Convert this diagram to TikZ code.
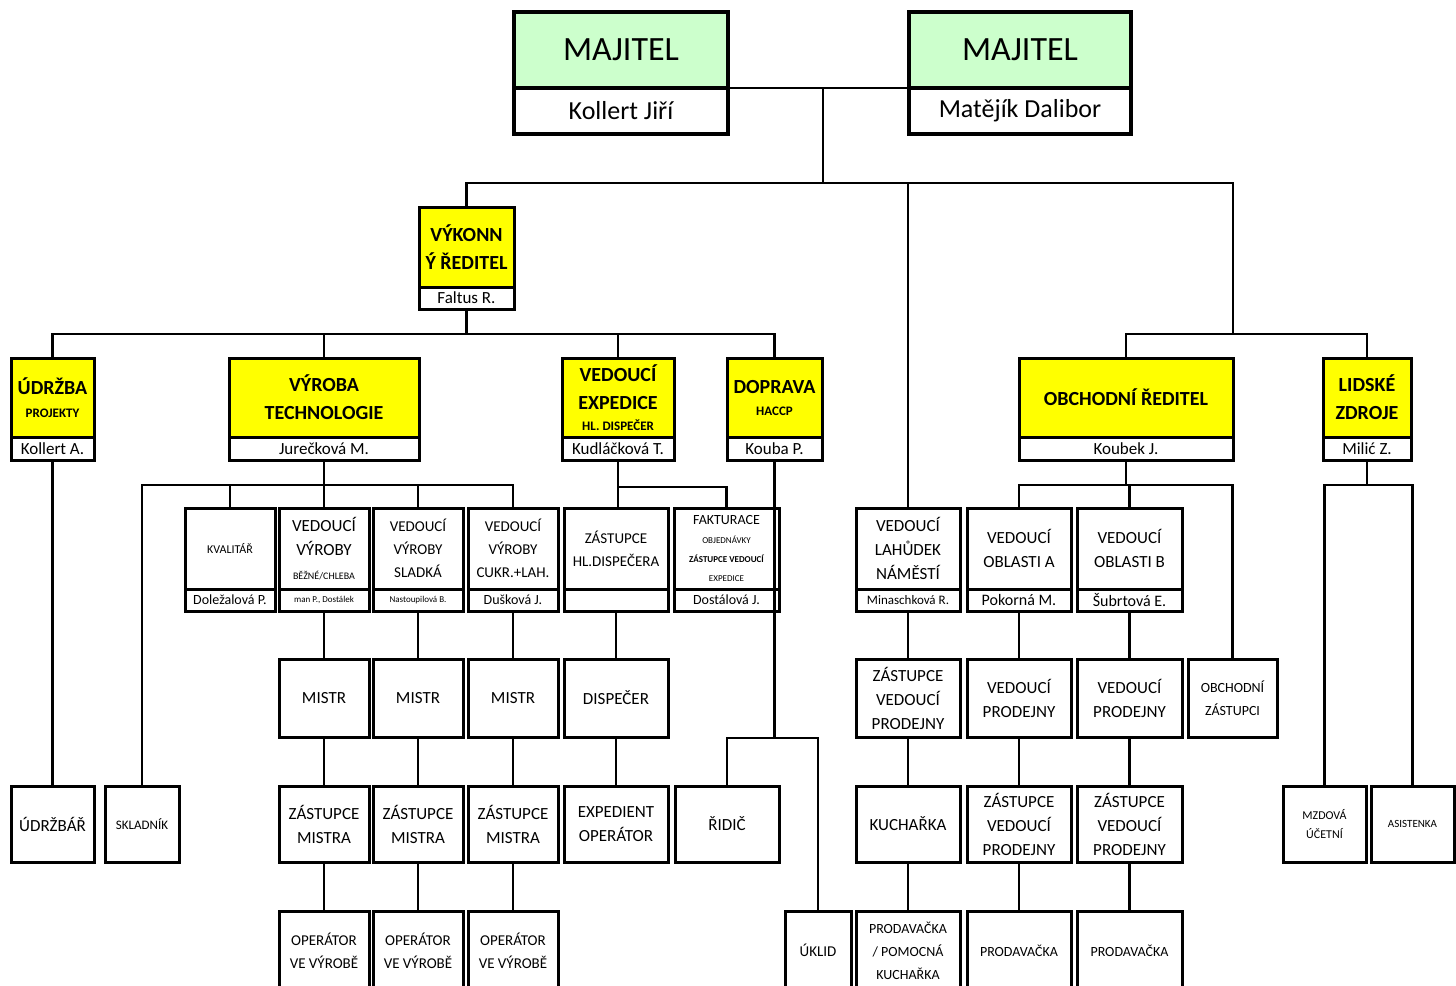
\documentclass[tikz,border=0pt]{standalone}
\usepackage{fontspec}
\setmainfont{Carlito}
\usepackage{tikz}
\usetikzlibrary{positioning}
\definecolor{ownergreen}{RGB}{204,255,204}
\definecolor{headyellow}{RGB}{255,255,0}
\newcommand\fsz[2]{\fontsize{#1}{#2}\selectfont}

\begin{document}
\begin{tikzpicture}[x=0.5pt, y=-0.5pt,
  box/.style={draw, line width=1.5pt, inner sep=0pt, outer sep=0pt, align=center},
  owner/.style={box, line width=2pt, fill=ownergreen, font=\fsz{17}{20}},
  ownername/.style={box, line width=2pt, fill=white, font=\fsz{13}{15}},
  head/.style={box, fill=headyellow, font=\fsz{10}{14}\bfseries},
  headname/.style={box, fill=white, font=\fsz{8.5}{10}},
  unit/.style={box, font=\fsz{8.5}{12}},
  unitname/.style={box, font=\fsz{7}{8}},
  sz/.style 2 args={minimum width=#1pt, minimum height=#2pt},
  link/.style={line width=1.1pt}]
  \useasboundingbox (0,0) rectangle (1456,985);
  \clip (0,0) rectangle (1456,985);

  % Majitele
  \node[owner, sz={107}{38}] (own1) at (621,50) {MAJITEL};
  \node[ownername, sz={107}{23}, below=0pt of own1] (own1n) {Kollert Jiří};
  \node[owner, sz={111}{38}] (own2) at (1020,50) {MAJITEL};
  \node[ownername, sz={111}{23}, below=0pt of own2] (own2n) {Matějík Dalibor};

  % Vykonny reditel
  \node[head, sz={47.5}{40}] (exe) at (466.5,247) {VÝKONN\\Ý ŘEDITEL};
  \node[headname, sz={47.5}{11}, below=0pt of exe] (exen) {Faltus R.};

  % Useky
  \node[head, sz={41.5}{39.5}] (udr) at (52.5,397.5) {ÚDRŽBA\\[-2.5pt]{\fsz{6.5}{8}PROJEKTY}};
  \node[headname, sz={41.5}{11.5}, below=0pt of udr] (udrn) {Kollert A.};
  \node[head, sz={95}{39.5}] (vyr) at (324,397.5) {VÝROBA\\TECHNOLOGIE};
  \node[headname, sz={95}{11.5}, below=0pt of vyr] (vyrn) {Jurečková M.};
  \node[head, sz={56}{39.5}] (exp) at (618,397.5) {VEDOUCÍ\\EXPEDICE\\[-3.5pt]{\fsz{6.5}{8}HL. DISPEČER}};
  \node[headname, sz={56}{11.5}, below=0pt of exp] (expn) {Kudláčková T.};
  \node[head, sz={47.5}{39.5}] (dop) at (774.5,397.5) {DOPRAVA\\[-3pt]{\fsz{6.5}{8}HACCP}};
  \node[headname, sz={47.5}{11.5}, below=0pt of dop] (dopn) {Kouba P.};
  \node[head, sz={107}{39.5}] (obch) at (1126,397.5) {OBCHODNÍ ŘEDITEL};
  \node[headname, sz={107}{11.5}, below=0pt of obch] (obchn) {Koubek J.};
  \node[head, sz={44}{39.5}] (lz) at (1367,397.5) {LIDSKÉ\\ZDROJE};
  \node[headname, sz={44}{11.5}, below=0pt of lz] (lzn) {Milić Z.};

  % Vedouci
  \node[unit, sz={45}{40.5}, font=\fsz{6}{8}] (kval) at (230,548.5) {KVALITÁŘ};
  \node[unitname, sz={45}{11}, below=0pt of kval] (kvaln) {Doležalová P.};
  \node[unit, sz={45}{40.5}] (vvb) at (324,548.5) {VEDOUCÍ\\VÝROBY\\{\fsz{5}{6}BĚŽNÉ/CHLEBA}};
  \node[unitname, sz={45}{11}, below=0pt of vvb, font=\fsz{4.5}{5}] (vvbn) {man P., Dostálek};
  \node[unit, sz={45}{40.5}, font=\fsz{7.5}{11.5}] (vvs) at (418,548.5) {VEDOUCÍ\\VÝROBY\\SLADKÁ};
  \node[unitname, sz={45}{11}, below=0pt of vvs, font=\fsz{4.5}{5}] (vvsn) {Nastoupilová B.};
  \node[unit, sz={45}{40.5}, font=\fsz{7.5}{11.5}] (vvc) at (513,548.5) {VEDOUCÍ\\VÝROBY\\CUKR.+LAH.};
  \node[unitname, sz={45}{11}, below=0pt of vvc] (vvcn) {Dušková J.};
  \node[unit, sz={52}{40.5}, font=\fsz{7.5}{11.5}] (zhd) at (616,548.5) {ZÁSTUPCE\\HL.DISPEČERA};
  \node[unitname, sz={52}{11}, below=0pt of zhd] (zhdn) {};
  \node[unit, sz={52.5}{40.5}, font=\fsz{7}{9.5}] (fakt) at (726.5,548.5) {FAKTURACE\\{\fsz{4.5}{9.5}OBJEDNÁVKY}\\{\fsz{4.5}{9.5}\bfseries ZÁSTUPCE VEDOUCÍ}\\{\fsz{4.5}{9.5}EXPEDICE}};
  \node[unitname, sz={52.5}{11}, below=0pt of fakt] (faktn) {Dostálová J.};
  \node[unit, sz={52}{40.5}] (vlah) at (908,548.5) {VEDOUCÍ\\LAHŮDEK\\NÁMĚSTÍ};
  \node[unitname, sz={52}{11}, below=0pt of vlah, font=\fsz{6.5}{7}] (vlahn) {Minaschková R.};
  \node[unit, sz={52}{40.5}] (voa) at (1019,548.5) {VEDOUCÍ\\OBLASTI A};
  \node[unitname, sz={52}{11}, below=0pt of voa, font=\fsz{8}{9}] (voan) {Pokorná M.};
  \node[unit, sz={52.5}{40.5}] (vob) at (1129.5,548.5) {VEDOUCÍ\\OBLASTI B};
  \node[unitname, sz={52.5}{11}, below=0pt of vob, font=\fsz{8}{9}] (vobn) {Šubrtová E.};

  % Mistri a zastupci
  \node[unit, sz={45}{39}] (mis1) at (324,698) {MISTR};
  \node[unit, sz={45}{39}] (mis2) at (418,698) {MISTR};
  \node[unit, sz={45}{39}] (mis3) at (513,698) {MISTR};
  \node[unit, sz={52}{39}] (disp) at (616,698) {DISPEČER};
  \node[unit, sz={52}{39}] (zvp) at (908,698) {ZÁSTUPCE\\VEDOUCÍ\\PRODEJNY};
  \node[unit, sz={52}{39}] (vpa) at (1019,698) {VEDOUCÍ\\PRODEJNY};
  \node[unit, sz={52.5}{39}] (vpb) at (1129.5,698) {VEDOUCÍ\\PRODEJNY};
  \node[unit, sz={44.5}{39}, font=\fsz{7}{11.5}] (obz) at (1232.5,698) {OBCHODNÍ\\ZÁSTUPCI};

  % Pata
  \node[unit, sz={41.5}{38}] (udb) at (52.5,824) {ÚDRŽBÁŘ};
  \node[unit, sz={37}{38}, font=\fsz{6.5}{8}] (skl) at (142,824) {SKLADNÍK};
  \node[unit, sz={45}{38}] (zm1) at (324,824) {ZÁSTUPCE\\MISTRA};
  \node[unit, sz={45}{38}] (zm2) at (418,824) {ZÁSTUPCE\\MISTRA};
  \node[unit, sz={45}{38}] (zm3) at (513,824) {ZÁSTUPCE\\MISTRA};
  \node[unit, sz={52}{38}] (expo) at (616,824) {EXPEDIENT\\OPERÁTOR};
  \node[unit, sz={52}{38}] (ridic) at (727,824) {ŘIDIČ};
  \node[unit, sz={52}{38}] (kuch) at (908,824) {KUCHAŘKA};
  \node[unit, sz={52}{38}] (zpa) at (1019,824) {ZÁSTUPCE\\VEDOUCÍ\\PRODEJNY};
  \node[unit, sz={52.5}{38}] (zpb) at (1129.5,824) {ZÁSTUPCE\\VEDOUCÍ\\PRODEJNY};
  \node[unit, sz={41.5}{38}, font=\fsz{6}{9.5}] (mzd) at (1324.5,824) {MZDOVÁ\\ÚČETNÍ};
  \node[unit, sz={41.5}{38}, font=\fsz{5.5}{7}] (asis) at (1412.5,824) {ASISTENKA};

  \node[unit, sz={45}{39.5}, font=\fsz{7.5}{11.5}] (op1) at (324,950.5) {OPERÁTOR\\VE VÝROBĚ};
  \node[unit, sz={45}{39.5}, font=\fsz{7.5}{11.5}] (op2) at (418,950.5) {OPERÁTOR\\VE VÝROBĚ};
  \node[unit, sz={45}{39.5}, font=\fsz{7.5}{11.5}] (op3) at (513,950.5) {OPERÁTOR\\VE VÝROBĚ};
  \node[unit, sz={33}{39.5}, font=\fsz{7.5}{11.5}] (ukl) at (818,950.5) {ÚKLID};
  \node[unit, sz={52}{39.5}, font=\fsz{7}{11.5}] (prk) at (908,950.5) {PRODAVAČKA\\/ POMOCNÁ\\KUCHAŘKA};
  \node[unit, sz={52}{39.5}, font=\fsz{7}{11.5}] (pra) at (1019,950.5) {PRODAVAČKA};
  \node[unit, sz={52.5}{39.5}, font=\fsz{7}{11.5}] (prb) at (1129.5,950.5) {PRODAVAČKA};

  % Spojnice
  \coordinate (ownjoin) at (823,88);
  \coordinate (bus0) at (823,183);
  \coordinate (obchbus) at (1233,334);
  \coordinate (exebus) at (466.5,334);
  \coordinate (vyrbus) at (324,485);
  \coordinate (expbus) at (618,487);
  \coordinate (dopbus) at (774.5,738);
  \coordinate (obchbus2) at (1126,485);
  \coordinate (lzbus) at (1367,485);

  \draw[link] (own1.south east) -- (own2.south west);
  \draw[link] (ownjoin) -- (bus0);
  \draw[link] (exe.north) |- (bus0) -| (vlah.north);
  \draw[link] (bus0) -| (obchbus);
  \draw[link] (obch.north) |- (obchbus) -| (lz.north);

  \draw[link] (exen.south) -- (exebus);
  \draw[link] (udr.north) |- (exebus) -| (dop.north);
  \draw[link] (vyr.north) -- (vyr.north |- exebus);
  \draw[link] (exp.north) -- (exp.north |- exebus);

  \draw[link] (udrn.south) -- (udb.north);

  \draw[link] (vyrn.south) -- (vvb.north);
  \draw[link] (skl.north) |- (vyrbus) -| (vvc.north);
  \draw[link] (kval.north) -- (kval.north |- vyrbus);
  \draw[link] (vvs.north) -- (vvs.north |- vyrbus);
  \draw[link] (vvbn.south) -- (mis1.north);
  \draw[link] (vvsn.south) -- (mis2.north);
  \draw[link] (vvcn.south) -- (mis3.north);
  \draw[link] (mis1) -- (zm1);
  \draw[link] (mis2) -- (zm2);
  \draw[link] (mis3) -- (zm3);
  \draw[link] (zm1) -- (op1);
  \draw[link] (zm2) -- (op2);
  \draw[link] (zm3) -- (op3);

  \draw[link] (expn.south) -- (expn.south |- zhd.north);
  \draw[link] (expbus) -| (fakt.north);
  \draw[link] (zhdn.south) -- (disp.north);
  \draw[link] (disp) -- (expo);

  \draw[link] (dopn.south) -- (dopbus);
  \draw[link] (ridic.north) |- (dopbus) -| (ukl.north);

  \draw[link] (vlahn.south) -- (zvp.north);
  \draw[link] (zvp) -- (kuch);
  \draw[link] (kuch) -- (prk);

  \draw[link] (obchn.south) -- (obchbus2);
  \draw[link] (voa.north) |- (obchbus2) -| (obz.north);
  \draw[link] (vob.north) -- (vob.north |- obchbus2);
  \draw[link] (voan.south) -- (vpa.north);
  \draw[link] (vpa) -- (zpa);
  \draw[link] (zpa) -- (pra);
  \draw[link] (vobn.south) -- (vpb.north);
  \draw[link] (vpb) -- (zpb);
  \draw[link] (zpb) -- (prb);

  \draw[link] (lzn.south) -- (lzbus);
  \draw[link] (mzd.north) |- (lzbus) -| (asis.north);
\end{tikzpicture}
\end{document}
